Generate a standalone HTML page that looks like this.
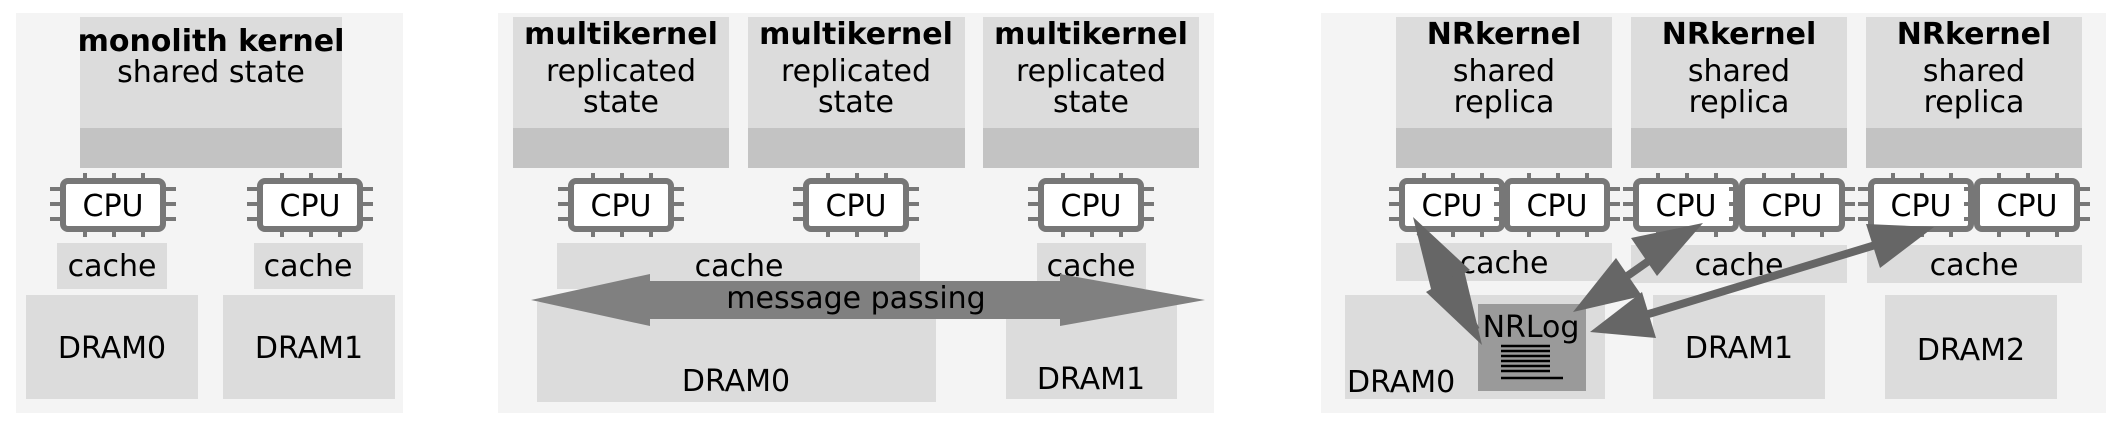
<!DOCTYPE html>
<html><head><meta charset="utf-8"><style>
html,body{margin:0;padding:0;background:#fff;}
svg{display:block;}
text{font-family:"DejaVu Sans","Liberation Sans",sans-serif;font-size:30px;fill:#000;}
.b{font-weight:bold;}
</style></head><body>
<svg width="2122" height="424" viewBox="0 0 2122 424" xmlns="http://www.w3.org/2000/svg">
<defs>
<g id="cpu">
  <g stroke="#777" stroke-width="4" fill="none">
    <line x1="22" y1="-8" x2="22" y2="0"/><line x1="51" y1="-8" x2="51" y2="0"/><line x1="80" y1="-8" x2="80" y2="0"/>
    <line x1="22" y1="48" x2="22" y2="56"/><line x1="51" y1="48" x2="51" y2="56"/><line x1="80" y1="48" x2="80" y2="56"/>
    <line x1="-13" y1="8" x2="0" y2="8"/><line x1="-13" y1="23" x2="0" y2="23"/><line x1="-13" y1="38" x2="0" y2="38"/>
    <line x1="100" y1="8" x2="113" y2="8"/><line x1="100" y1="23" x2="113" y2="23"/><line x1="100" y1="38" x2="113" y2="38"/>
  </g>
  <rect x="0" y="0" width="100" height="48" rx="5" fill="#fff" stroke="#777" stroke-width="6"/>
</g>
</defs>
<!-- Panel 1 -->
<rect x="16" y="13" width="387" height="400" fill="#f4f4f4"/>
<rect x="80" y="17" width="262" height="111" fill="#dcdcdc"/>
<rect x="80" y="128" width="262" height="40" fill="#c3c3c3"/>
<text class="b" x="211" y="51" text-anchor="middle">monolith kernel</text>
<text x="211" y="82" text-anchor="middle">shared state</text>
<use href="#cpu" x="63" y="181"/><text x="113" y="216" text-anchor="middle">CPU</text>
<use href="#cpu" x="260" y="181"/><text x="310" y="216" text-anchor="middle">CPU</text>
<rect x="57" y="243" width="110" height="46" fill="#dcdcdc"/><text x="112" y="276" text-anchor="middle">cache</text>
<rect x="254" y="243" width="109" height="46" fill="#dcdcdc"/><text x="308" y="276" text-anchor="middle">cache</text>
<rect x="26" y="295" width="172" height="104" fill="#dcdcdc"/><text x="112" y="358" text-anchor="middle">DRAM0</text>
<rect x="223" y="295" width="172" height="104" fill="#dcdcdc"/><text x="309" y="358" text-anchor="middle">DRAM1</text>

<!-- Panel 2 -->
<rect x="498" y="13" width="716" height="400" fill="#f4f4f4"/>
<rect x="513" y="17" width="216" height="111" fill="#dcdcdc"/><rect x="513" y="128" width="216" height="40" fill="#c3c3c3"/>
<rect x="748" y="17" width="217" height="111" fill="#dcdcdc"/><rect x="748" y="128" width="217" height="40" fill="#c3c3c3"/>
<rect x="983" y="17" width="216" height="111" fill="#dcdcdc"/><rect x="983" y="128" width="216" height="40" fill="#c3c3c3"/>
<text class="b" x="621" y="44" text-anchor="middle">multikernel</text>
<text x="621" y="81" text-anchor="middle">replicated</text><text x="621" y="112" text-anchor="middle">state</text>
<text class="b" x="856" y="44" text-anchor="middle">multikernel</text>
<text x="856" y="81" text-anchor="middle">replicated</text><text x="856" y="112" text-anchor="middle">state</text>
<text class="b" x="1091" y="44" text-anchor="middle">multikernel</text>
<text x="1091" y="81" text-anchor="middle">replicated</text><text x="1091" y="112" text-anchor="middle">state</text>
<use href="#cpu" x="571" y="181"/><text x="621" y="216" text-anchor="middle">CPU</text>
<use href="#cpu" x="806" y="181"/><text x="856" y="216" text-anchor="middle">CPU</text>
<use href="#cpu" x="1041" y="181"/><text x="1091" y="216" text-anchor="middle">CPU</text>
<rect x="557" y="243" width="363" height="46" fill="#dcdcdc"/><text x="739" y="276" text-anchor="middle">cache</text>
<rect x="1037" y="243" width="109" height="46" fill="#dcdcdc"/><text x="1091" y="276" text-anchor="middle">cache</text>
<rect x="537" y="302" width="399" height="100" fill="#dcdcdc"/><text x="736" y="391" text-anchor="middle">DRAM0</text>
<rect x="1006" y="302" width="171" height="97" fill="#dcdcdc"/><text x="1091" y="389" text-anchor="middle">DRAM1</text>
<polygon points="531,300 650,274 650,281 1060,281 1060,274 1205,300 1060,326 1060,319 650,319 650,326" fill="#808080"/>
<text x="856" y="308" text-anchor="middle">message passing</text>

<!-- Panel 3 -->
<rect x="1321" y="13" width="785" height="400" fill="#f4f4f4"/>
<rect x="1396" y="17" width="216" height="111" fill="#dcdcdc"/><rect x="1396" y="128" width="216" height="40" fill="#c3c3c3"/>
<rect x="1631" y="17" width="216" height="111" fill="#dcdcdc"/><rect x="1631" y="128" width="216" height="40" fill="#c3c3c3"/>
<rect x="1866" y="17" width="216" height="111" fill="#dcdcdc"/><rect x="1866" y="128" width="216" height="40" fill="#c3c3c3"/>
<text class="b" x="1504" y="44" text-anchor="middle">NRkernel</text>
<text x="1504" y="81" text-anchor="middle">shared</text><text x="1504" y="112" text-anchor="middle">replica</text>
<text class="b" x="1739" y="44" text-anchor="middle">NRkernel</text>
<text x="1739" y="81" text-anchor="middle">shared</text><text x="1739" y="112" text-anchor="middle">replica</text>
<text class="b" x="1974" y="44" text-anchor="middle">NRkernel</text>
<text x="1974" y="81" text-anchor="middle">shared</text><text x="1974" y="112" text-anchor="middle">replica</text>
<rect x="1396" y="243" width="216" height="38" fill="#dcdcdc"/><text x="1504" y="273" text-anchor="middle">cache</text>
<rect x="1631" y="245" width="216" height="38" fill="#dcdcdc"/><text x="1739" y="275" text-anchor="middle">cache</text>
<rect x="1867" y="245" width="215" height="38" fill="#dcdcdc"/><text x="1974" y="275" text-anchor="middle">cache</text>
<use href="#cpu" x="1402" y="181"/><text x="1452" y="216" text-anchor="middle">CPU</text>
<use href="#cpu" x="1507" y="181"/><text x="1557" y="216" text-anchor="middle">CPU</text>
<use href="#cpu" x="1636" y="181"/><text x="1686" y="216" text-anchor="middle">CPU</text>
<use href="#cpu" x="1742" y="181"/><text x="1792" y="216" text-anchor="middle">CPU</text>
<use href="#cpu" x="1871" y="181"/><text x="1921" y="216" text-anchor="middle">CPU</text>
<use href="#cpu" x="1977" y="181"/><text x="2027" y="216" text-anchor="middle">CPU</text>
<rect x="1345" y="295" width="260" height="104" fill="#dcdcdc"/>
<text x="1347" y="392">DRAM0</text>
<rect x="1478" y="304" width="108" height="87" fill="#9a9a9a"/>
<text x="1531" y="337" text-anchor="middle">NRLog</text>
<g stroke="#000" stroke-width="2.5">
<line x1="1501" y1="346" x2="1550" y2="346"/><line x1="1501" y1="351" x2="1550" y2="351"/>
<line x1="1501" y1="356" x2="1550" y2="356"/><line x1="1501" y1="361" x2="1550" y2="361"/>
<line x1="1501" y1="366" x2="1550" y2="366"/><line x1="1501" y1="371" x2="1550" y2="371"/>
<line x1="1501" y1="378" x2="1563" y2="378"/>
</g>
<rect x="1653" y="295" width="172" height="104" fill="#dcdcdc"/><text x="1739" y="358" text-anchor="middle">DRAM1</text>
<rect x="1885" y="295" width="172" height="104" fill="#dcdcdc"/><text x="1971" y="360" text-anchor="middle">DRAM2</text>
<!-- arrows -->
<g fill="#666" stroke="#666" stroke-width="8">
<line x1="1420" y1="232" x2="1476" y2="330"/>
<polygon stroke="none" points="1413,217 1470,270 1432,293"/>
<polygon stroke="none" points="1482,345 1426,292 1464,270"/>
<line x1="1690" y1="232" x2="1586" y2="305"/>
<polygon stroke="none" points="1703,223 1631,238 1657,276"/>
<polygon stroke="none" points="1573,312 1616,258 1642,296"/>
<line x1="1918" y1="232" x2="1606" y2="327"/>
<polygon stroke="none" points="1934,227 1866,224 1880,268"/>
<polygon stroke="none" points="1590,332 1642,292 1656,338"/>
</g>
</svg>
</body></html>
